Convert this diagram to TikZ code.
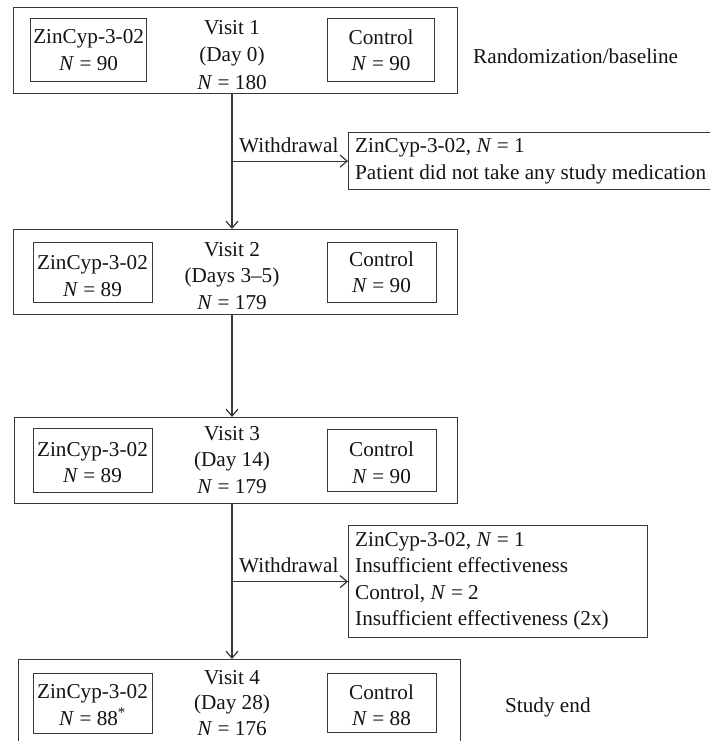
\documentclass[tikz,border=0pt]{standalone}
\usepackage{fontspec}
\setmainfont{Liberation Serif}
\usetikzlibrary{arrows.meta}
\newcommand{\nN}{\textit{N}}
\begin{document}
\begin{tikzpicture}[x=1pt,y=-1pt,
  line/.style={line width=1.2pt, draw=black!78},
  frame/.style={line, rectangle, inner sep=0pt, anchor=north west},
  txt/.style={font=\fontsize{21.2pt}{26.5pt}\selectfont, text=black!92, inner sep=0pt, align=center},
  ltxt/.style={txt, align=left, anchor=west},
  arr/.style={line, -{Straight Barb[length=7pt,width=12pt,line width=1.2pt]}},
]
\useasboundingbox (0,0) rectangle (710,741);
\fill[white] (0,0) rectangle (710,741);
\clip (0,0) rectangle (710,741);

% visit frames
\node[frame, minimum width=444pt, minimum height=86pt] (v1) at (13,7) {};
\node[frame, minimum width=116pt, minimum height=63pt] (v1l) at (30,18) {};
\node[frame, minimum width=107pt, minimum height=63pt] (v1r) at (327,18) {};

\node[frame, minimum width=444pt, minimum height=85pt] (v2) at (13,229) {};
\node[frame, minimum width=119pt, minimum height=60pt] (v2l) at (33,242) {};
\node[frame, minimum width=109pt, minimum height=60pt] (v2r) at (327,242) {};

\node[frame, minimum width=443pt, minimum height=86pt] (v3) at (14,417) {};
\node[frame, minimum width=119pt, minimum height=64pt] (v3l) at (33,428) {};
\node[frame, minimum width=109pt, minimum height=62pt] (v3r) at (327,429) {};

\node[frame, minimum width=442pt, minimum height=110pt] (v4) at (18,659) {};
\node[frame, minimum width=119pt, minimum height=60pt] (v4l) at (33,673) {};
\node[frame, minimum width=109pt, minimum height=59pt] (v4r) at (327,673) {};

\node[frame, minimum width=370pt, minimum height=57pt] (w1) at (348,132) {};
\node[frame, minimum width=299pt, minimum height=112pt] (w2) at (348,525) {};

% texts
\node[txt, font=\fontsize{21.2pt}{27.5pt}\selectfont] (v1t) at (232,55) {Visit 1\\(Day 0)\\\nN{} = 180};
\node[txt] (v1lt) at (v1l.center) {ZinCyp-3-02\\\nN{} = 90};
\node[txt] (v1rt) at (v1r.center) {Control\\\nN{} = 90};
\node[txt, anchor=west] (rb) at (473,56) {Randomization/baseline};

\node[txt] (v2t) at (232,276) {Visit 2\\(Days 3--5)\\\nN{} = 179};
\node[txt] (v2lt) at (92.5,276) {ZinCyp-3-02\\\nN{} = 89};
\node[txt] (v2rt) at (381.5,272) {Control\\\nN{} = 90};

\node[txt] (v3t) at (232,460) {Visit 3\\(Day 14)\\\nN{} = 179};
\node[txt] (v3lt) at (92.5,462.5) {ZinCyp-3-02\\\nN{} = 89};
\node[txt] (v3rt) at (381.5,462.5) {Control\\\nN{} = 90};

\node[txt, font=\fontsize{21.2pt}{25.5pt}\selectfont] (v4t) at (232,703) {Visit 4\\(Day 28)\\\nN{} = 176};
\node[txt] (v4lt) at (92.5,705) {ZinCyp-3-02\\\nN{} = 88\textsuperscript{*}};
\node[txt] (v4rt) at (381.5,705) {Control\\\nN{} = 88};
\node[txt, anchor=west] (se) at (505,707) {Study end};

\node[ltxt] (w1t) at (355,161) {ZinCyp-3-02, \nN{} = 1\\Patient did not take any study medication};
\node[ltxt] (w2t) at (355,581) {ZinCyp-3-02, \nN{} = 1\\Insufficient effectiveness\\Control, \nN{} = 2\\Insufficient effectiveness (2x)};

% trunk and connectors
\coordinate (t) at (232,0);
\draw[arr] (t |- v1.south) -- (t |- v2.north);
\draw[arr] (t |- v2.south) -- (t |- v3.north);
\draw[arr] (t |- v3.south) -- (t |- v4.north);
\draw[arr] (t |- w1.west) -- (w1.west);
\draw[arr] (t |- w2.west) -- (w2.west);

\node[txt, anchor=west] (wl1) at (239,145) {Withdrawal};
\node[txt, anchor=west] (wl2) at (239,565) {Withdrawal};
\end{tikzpicture}
\end{document}
